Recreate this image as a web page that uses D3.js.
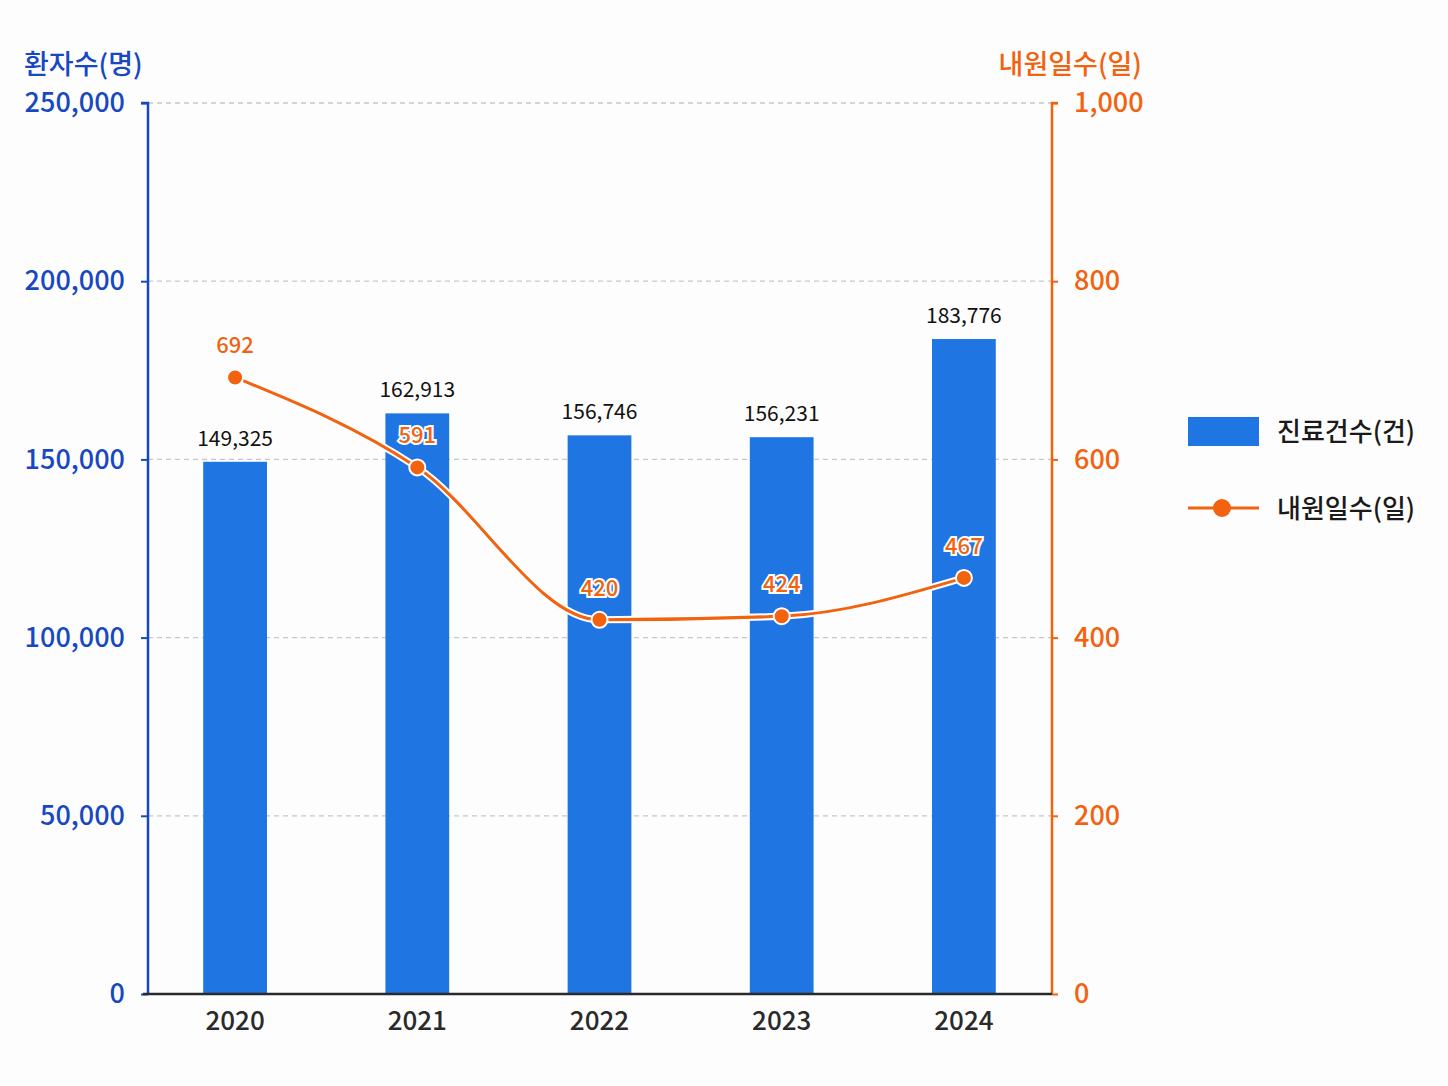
<!DOCTYPE html>
<html>
<head>
<meta charset="utf-8">
<script src="https://cdn.jsdelivr.net/npm/d3@7"></script>
<style>
  body { margin: 0; background: #fdfdfd; }
  text { font-family: "Noto Sans CJK KR", "Noto Sans", sans-serif; }
</style>
</head>
<body>
<div id="chart"></div>
<script>
// data
var years = ['2020', '2021', '2022', '2023', '2024'];
var cases = [149325, 162913, 156746, 156231, 183776];
var visitDays = [692, 591, 420, 424, 467];
var leftTicks = [0, 50000, 100000, 150000, 200000, 250000];
var rightTicks = [0, 200, 400, 600, 800, 1000];

var w = 1448, h = 1086;
var blue = '#1f76e2', axisBlue = '#1748c2', orange = '#f2620f';
var plotTop = 103, plotBottom = 994, plotLeft = 148, plotRight = 1052;

var svg = d3.select('#chart').append('svg')
    .attr('width', w)
    .attr('height', h);

var x = d3.scaleBand()
    .domain(years)
    .range([144, 1055])
    .paddingInner(0.65)
    .paddingOuter(0.325);
var y = d3.scaleLinear().domain([0, 250000]).range([plotBottom, plotTop]);
var y2 = d3.scaleLinear().domain([0, 1000]).range([plotBottom, plotTop]);

var data = years.map(function(d, i) {
    return {year: d, cases: cases[i], days: visitDays[i]};
});

//grid
svg.append('g').selectAll('line')
    .data(leftTicks.slice(1))
    .enter().append('line')
    .attr('x1', plotLeft).attr('x2', plotRight)
    .attr('y1', function(d) {return y(d)})
    .attr('y2', function(d) {return y(d)})
    .attr('stroke', '#c8c8c8')
    .attr('stroke-width', 1.3)
    .attr('stroke-dasharray', '5,4');

//bars
svg.selectAll('rect.bar')
    .data(data)
  .enter().append('rect')
    .attr('class', 'bar')
    .attr('x', function(d) {return x(d.year)})
    .attr('y', function(d) {return y(d.cases)})
    .attr('width', x.bandwidth())
    .attr('height', function(d) {return plotBottom - y(d.cases)})
    .attr('fill', blue);

svg.selectAll('text.barLabel')
    .data(data)
  .enter().append('text')
    .attr('class', 'barLabel')
    .attr('x', function(d) {return x(d.year) + x.bandwidth() / 2})
    .attr('y', function(d) {return y(d.cases) - 16})
    .attr('text-anchor', 'middle')
    .attr('font-size', 21)
    .attr('fill', '#111')
    .text(function(d) {return d3.format(',')(d.cases)});

//axes
var yAxis = d3.axisLeft(y)
    .tickValues(leftTicks)
    .tickFormat(d3.format(','))
    .tickSize(7)
    .tickPadding(16);
var gl = svg.append('g')
    .attr('transform', 'translate(' + plotLeft + ',0)')
    .call(yAxis);
gl.select('.domain').attr('stroke', axisBlue).attr('stroke-width', 2.5).attr('d', 'M-7,' + plotTop + 'H0V' + plotBottom);
gl.selectAll('.tick line').attr('stroke', axisBlue).attr('stroke-width', 2);
gl.selectAll('.tick text').attr('fill', axisBlue).attr('font-size', 27).attr('font-weight', 500)
    .style('font-family', '"Noto Sans CJK KR", sans-serif');

var yAxis2 = d3.axisRight(y2)
    .tickValues(rightTicks)
    .tickFormat(d3.format(','))
    .tickSize(6)
    .tickPadding(16);
var gr = svg.append('g')
    .attr('transform', 'translate(' + plotRight + ',0)')
    .call(yAxis2);
gr.select('.domain').attr('stroke', orange).attr('stroke-width', 2.5).attr('d', 'M6,' + plotTop + 'H0V' + plotBottom);
gr.selectAll('.tick line').attr('stroke', orange).attr('stroke-width', 2);
gr.selectAll('.tick text').attr('fill', orange).attr('font-size', 27).attr('font-weight', 500)
    .style('font-family', '"Noto Sans CJK KR", sans-serif');

var xAxis = d3.axisBottom(x).tickSize(0).tickPadding(18);
var gx = svg.append('g')
    .attr('transform', 'translate(0,' + plotBottom + ')')
    .call(xAxis);
gx.select('.domain').attr('stroke', '#2a2a2a').attr('stroke-width', 2.5).attr('d', 'M143,0H' + plotRight);
gx.selectAll('.tick text').attr('fill', '#2a2a2a').attr('font-size', 26).attr('font-weight', 500)
    .style('font-family', '"Noto Sans CJK KR", sans-serif');

//axis titles
svg.append('text')
    .attr('x', 24).attr('y', 74)
    .attr('font-size', 27)
    .attr('font-weight', 500)
    .attr('fill', axisBlue)
    .text('환자수(명)');
svg.append('text')
    .attr('x', 1142).attr('y', 74)
    .attr('text-anchor', 'end')
    .attr('font-size', 27)
    .attr('font-weight', 500)
    .attr('fill', orange)
    .text('내원일수(일)');

//line
var line = d3.line()
    .x(function(d) {return x(d.year) + x.bandwidth() / 2})
    .y(function(d) {return y2(d.days)})
    .curve(d3.curveMonotoneX);

svg.append('path')
    .datum(data)
    .attr('fill', 'none')
    .attr('stroke', '#fff')
    .attr('stroke-width', 7)
    .attr('d', line);
svg.append('path')
    .datum(data)
    .attr('fill', 'none')
    .attr('stroke', orange)
    .attr('stroke-width', 3)
    .attr('d', line);

svg.selectAll('circle.pt')
    .data(data)
  .enter().append('circle')
    .attr('class', 'pt')
    .attr('cx', function(d) {return x(d.year) + x.bandwidth() / 2})
    .attr('cy', function(d) {return y2(d.days)})
    .attr('r', 8)
    .attr('fill', orange)
    .attr('stroke', '#fff')
    .attr('stroke-width', 2);

svg.selectAll('text.lineLabel')
    .data(data)
  .enter().append('text')
    .attr('class', 'lineLabel')
    .attr('x', function(d) {return x(d.year) + x.bandwidth() / 2})
    .attr('y', function(d) {return y2(d.days) - 24})
    .attr('text-anchor', 'middle')
    .attr('font-size', 22)
    .attr('font-weight', 500)
    .attr('fill', orange)
    .attr('stroke', '#fff')
    .attr('stroke-width', 4)
    .attr('paint-order', 'stroke')
    .text(function(d) {return d.days});

//legend
var lg = svg.append('g');
lg.append('rect')
    .attr('x', 1188).attr('y', 417)
    .attr('width', 71).attr('height', 29)
    .attr('fill', blue);
lg.append('text')
    .attr('x', 1277).attr('y', 441)
    .attr('font-size', 26)
    .attr('font-weight', 500)
    .attr('fill', '#1a1a1a')
    .text('진료건수(건)');
lg.append('line')
    .attr('x1', 1188).attr('x2', 1259)
    .attr('y1', 508).attr('y2', 508)
    .attr('stroke', orange).attr('stroke-width', 3);
lg.append('circle')
    .attr('cx', 1222).attr('cy', 508).attr('r', 9)
    .attr('fill', orange);
lg.append('text')
    .attr('x', 1277).attr('y', 518)
    .attr('font-size', 26)
    .attr('font-weight', 500)
    .attr('fill', '#1a1a1a')
    .text('내원일수(일)');
</script>
</body>
</html>
